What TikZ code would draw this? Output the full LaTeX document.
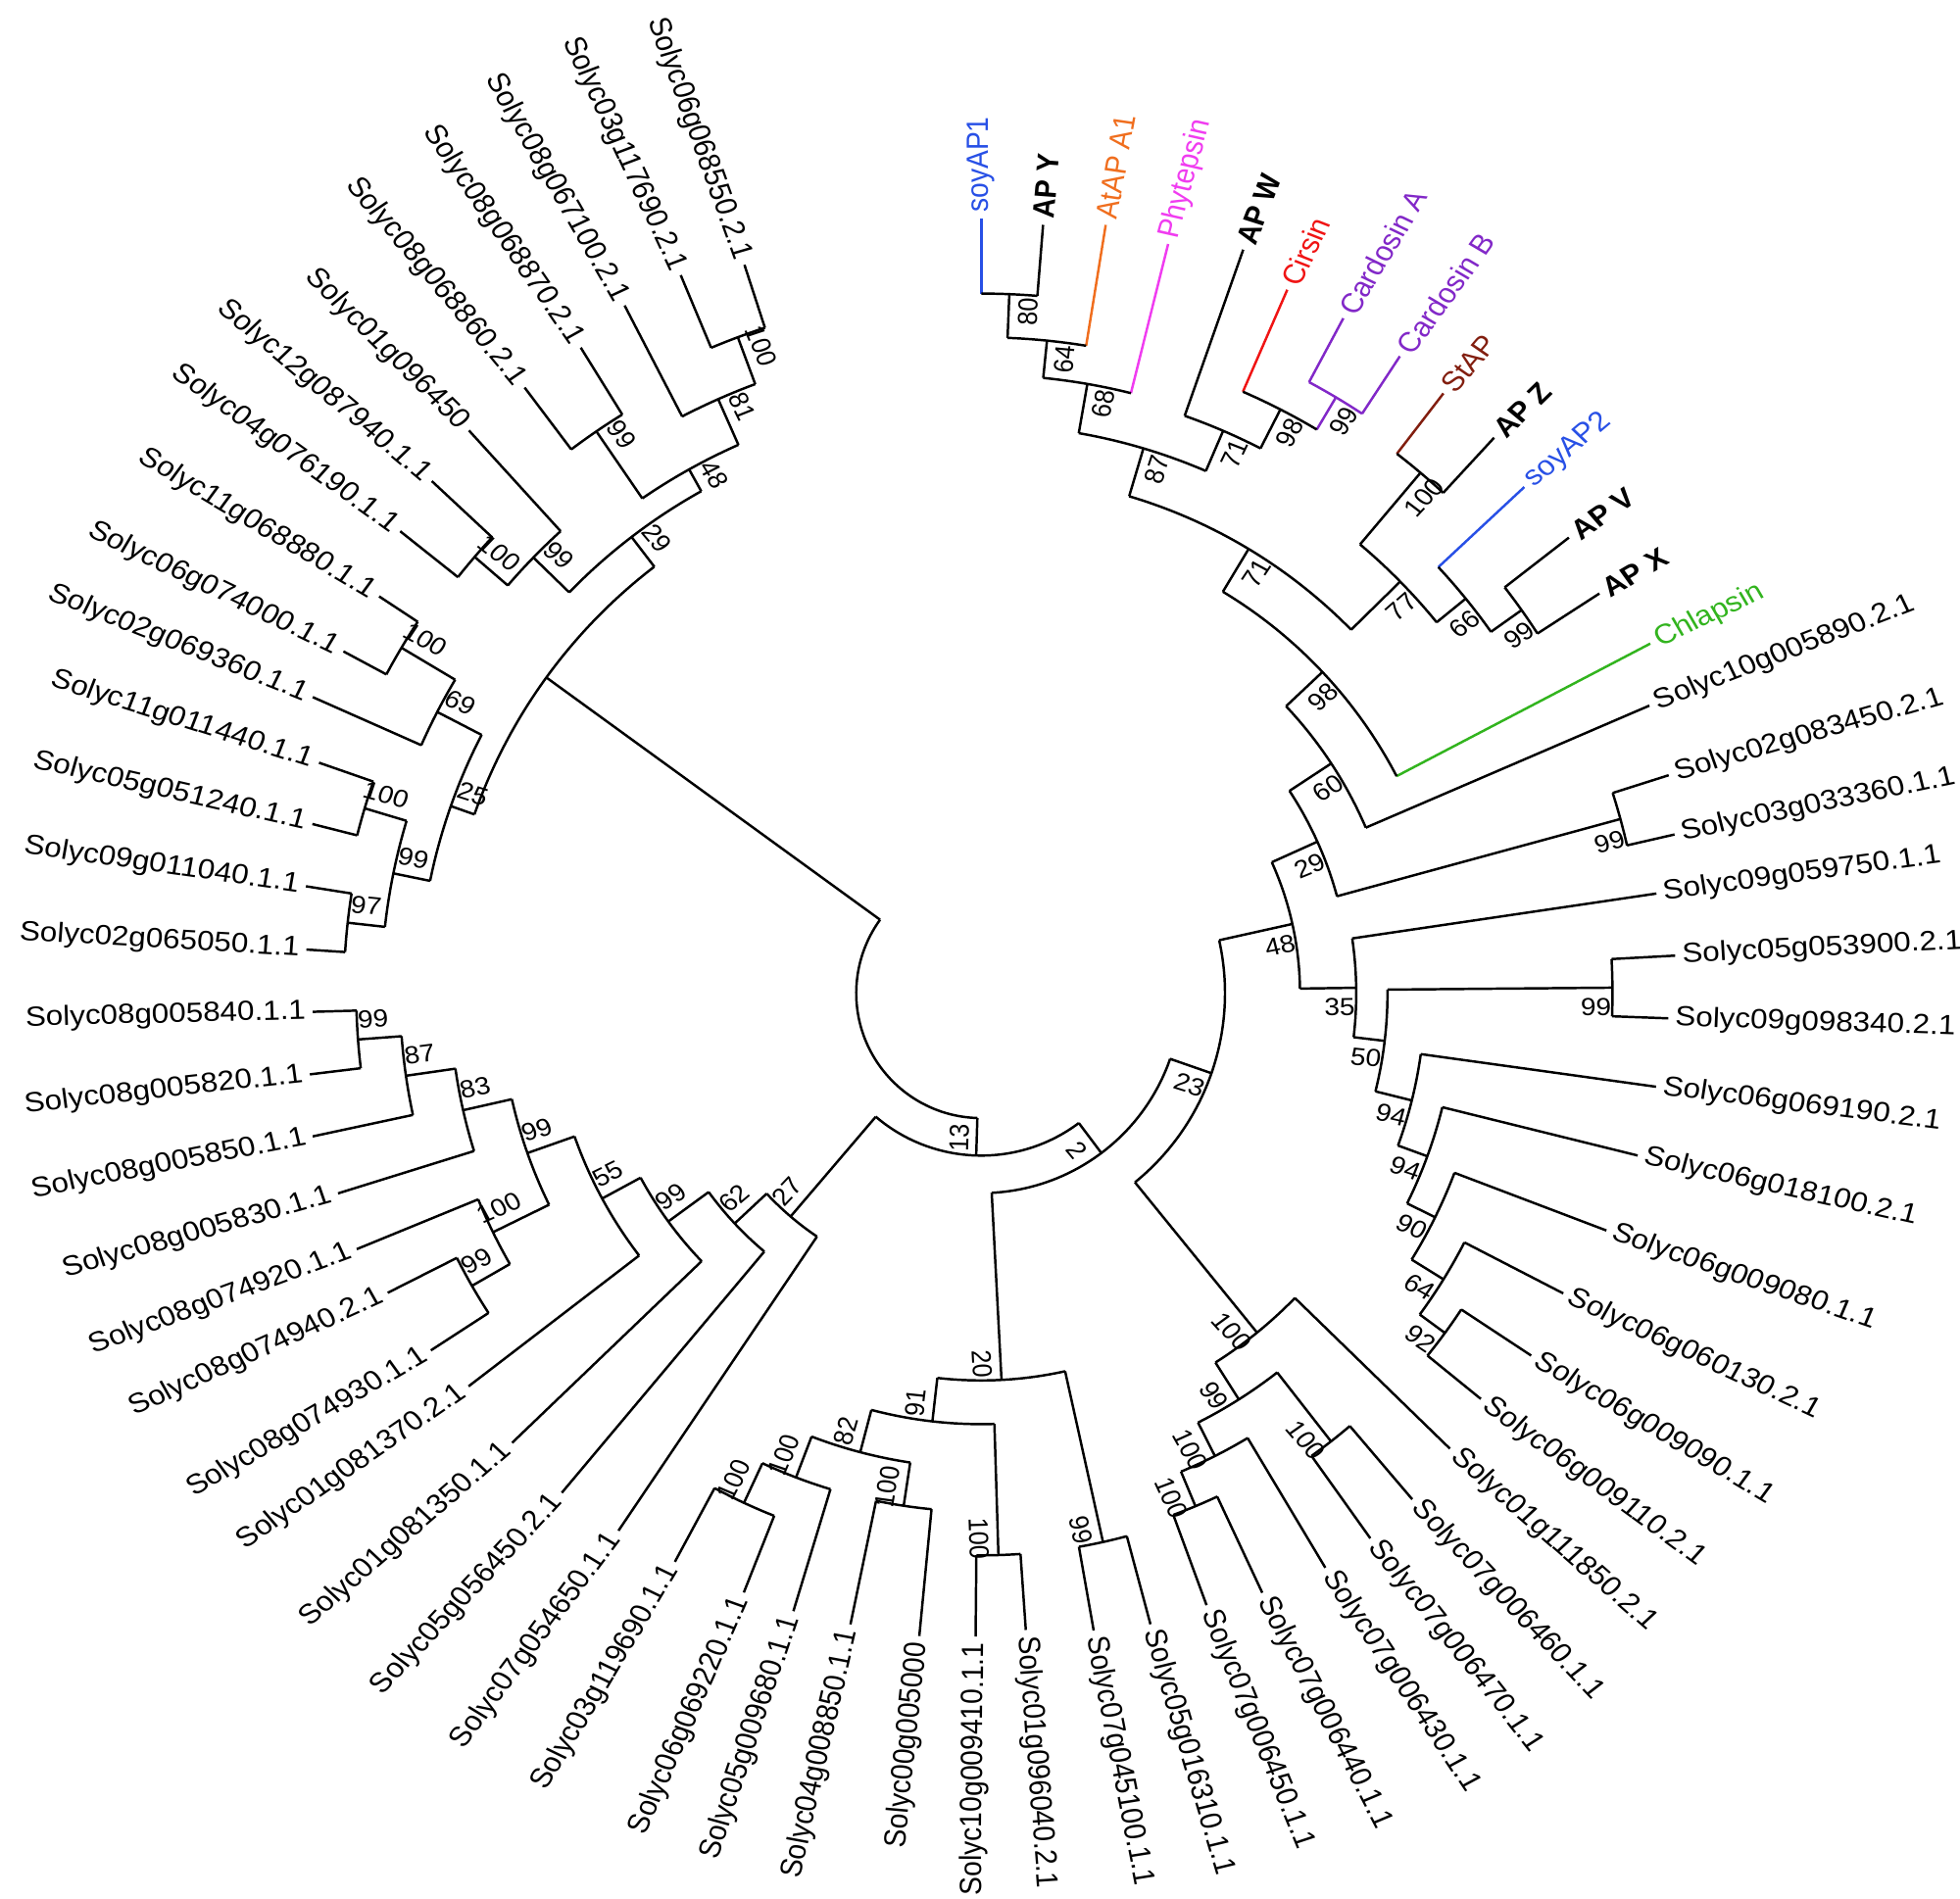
\documentclass[tikz,border=0pt]{standalone}
\usepackage{fontspec}
\setmainfont{Liberation Sans}
\definecolor{cblue}{RGB}{40,80,230}
\definecolor{corange}{RGB}{240,110,30}
\definecolor{cmag}{RGB}{240,60,240}
\definecolor{cred}{RGB}{240,20,20}
\definecolor{cpurp}{RGB}{130,40,200}
\definecolor{cbrown}{RGB}{130,30,15}
\definecolor{cgreen}{RGB}{50,180,30}
\tikzset{lbl/.style={font=\fontsize{14}{16}\selectfont,inner sep=3pt},
 bs/.style={font=\fontsize{12.5}{14}\selectfont,inner sep=0pt},
 br/.style={line width=1.1pt}}
\newcommand\lf[5]{%
 \expandafter\xdef\csname A#1\endcsname{#2}%
 \expandafter\xdef\csname K#1\endcsname{#4}%
 \coordinate (#1) at (#2:#3);
 \ifdim #2pt<-90pt
   \node[lbl,text=#4,anchor=east,rotate=#2+180] (t#1) at (#1) {#5};
 \else
   \node[lbl,text=#4,anchor=west,rotate=#2] (t#1) at (#1) {#5};
 \fi}
\newcommand\nd[6][black]{%
 \pgfmathsetmacro\tmpa{(\csname A#3\endcsname+\csname A#4\endcsname)/2}%
 \expandafter\xdef\csname A#2\endcsname{\tmpa}%
 \expandafter\xdef\csname K#2\endcsname{#1}%
 \pgfmathsetmacro\rr{#5*0.02}%
 \pgfmathsetmacro\ry{#5*0.02/0.9}%
 \coordinate (#2) at (\tmpa:#5);
 \coordinate (#2-a) at (\csname A#3\endcsname:#5);
 \coordinate (#2-b) at (\csname A#4\endcsname:#5);
 \draw[br,color=\csname K#3\endcsname] (#2-a) -- (#3);
 \draw[br,color=\csname K#4\endcsname] (#2-b) -- (#4);
 \draw[br,color=#1] (#2-a) arc[start angle=\csname A#3\endcsname, end angle=\csname A#4\endcsname, x radius=\rr cm, y radius=\ry cm];
 \if\relax\detokenize{#6}\relax\else
   \ifdim \tmpa pt<-90pt
     \node[bs,rotate=\tmpa+180] (b#2) at ({\tmpa-900/#5}:{#5-13}) {#6};
   \else
     \node[bs,rotate=\tmpa] (b#2) at ({\tmpa-900/#5}:{#5-13}) {#6};
   \fi
 \fi}
\begin{document}
\begin{tikzpicture}[x=0.02cm,y=0.0222222cm,yscale=0.9,every node/.append style={transform shape}]
\fill[white] (-785,-725) rectangle (783,795);
\useasboundingbox (-785,-725) rectangle (783,795);
\lf{L0}{90}{620}{cblue}{soyAP1}
\lf{L1}{85.4}{617}{black}{\textbf{AP Y}}
\lf{L2}{80.8}{623}{corange}{AtAP A1}
\lf{L3}{76}{618}{cmag}{Phytepsin}
\lf{L4}{70.6}{631}{black}{\textbf{AP W}}
\lf{L5}{66.5}{614}{cred}{Cirsin}
\lf{L6}{61.8}{613}{cpurp}{Cardosin A}
\lf{L7}{56.7}{610}{cpurp}{Cardosin B}
\lf{L8}{52.4}{606}{cbrown}{StAP}
\lf{L9}{47.3}{605}{black}{\textbf{AP Z}}
\lf{L10}{43}{594}{cblue}{soyAP2}
\lf{L11}{37.8}{595}{black}{\textbf{AP V}}
\lf{L12}{32.9}{589}{black}{\textbf{AP X}}
\lf{L13}{27.6}{604}{cgreen}{Chlapsin}
\lf{L14}{23.3}{582}{black}{Solyc10g005890.2.1}
\lf{L15}{17.6}{577}{black}{Solyc02g083450.2.1}
\lf{L16}{12.9}{569}{black}{Solyc03g033360.1.1}
\lf{L17}{8.4}{546}{black}{Solyc09g059750.1.1}
\lf{L18}{3.1}{556}{black}{Solyc05g053900.2.1}
\lf{L19}{-2.1}{550}{black}{Solyc09g098340.2.1}
\lf{L20}{-7.9}{545}{black}{Solyc06g069190.2.1}
\lf{L21}{-13.9}{541}{black}{Solyc06g018100.2.1}
\lf{L22}{-20.8}{535}{black}{Solyc06g009080.1.1}
\lf{L23}{-27.3}{524}{black}{Solyc06g060130.2.1}
\lf{L24}{-33.4}{527}{black}{Solyc06g009090.1.1}
\lf{L25}{-39.1}{515}{black}{Solyc06g009110.2.1}
\lf{L26}{-44.2}{523}{black}{Solyc01g111850.2.1}
\lf{L27}{-49.6}{532}{black}{Solyc07g006460.1.1}
\lf{L28}{-54.5}{536}{black}{Solyc07g006470.1.1}
\lf{L29}{-59.1}{536}{black}{Solyc07g006430.1.1}
\lf{L30}{-64.9}{530}{black}{Solyc07g006440.1.1}
\lf{L31}{-69.8}{522}{black}{Solyc07g006450.1.1}
\lf{L32}{-75}{523}{black}{Solyc05g016310.1.1}
\lf{L33}{-80}{518}{black}{Solyc07g045100.1.1}
\lf{L34}{-86}{511}{black}{Solyc01g096040.2.1}
\lf{L35}{-90.5}{515}{black}{Solyc10g009410.1.1}
\lf{L36}{-95.5}{517}{black}{Solyc00g005000}
\lf{L37}{-101.7}{516}{black}{Solyc04g008850.1.1}
\lf{L38}{-106.9}{517}{black}{Solyc05g009680.1.1}
\lf{L39}{-111.6}{516}{black}{Solyc06g069220.1.1}
\lf{L40}{-118.3}{517}{black}{Solyc03g119690.1.1}
\lf{L41}{-124}{519}{black}{Solyc07g054650.1.1}
\lf{L42}{-130}{522}{black}{Solyc05g056450.2.1}
\lf{L43}{-136.2}{520}{black}{Solyc01g081350.1.1}
\lf{L44}{-142.5}{517}{black}{Solyc01g081370.2.1}
\lf{L45}{-147}{525}{black}{Solyc08g074930.1.1}
\lf{L46}{-153.2}{532}{black}{Solyc08g074940.2.1}
\lf{L47}{-157.7}{540}{black}{Solyc08g074920.1.1}
\lf{L48}{-162.7}{539}{black}{Solyc08g005830.1.1}
\lf{L49}{-167.9}{547}{black}{Solyc08g005850.1.1}
\lf{L50}{-173.1}{541}{black}{Solyc08g005820.1.1}
\lf{L51}{-178.4}{535}{black}{Solyc08g005840.1.1}
\lf{L52}{-183.7}{541}{black}{Solyc02g065050.1.1}
\lf{L53}{-189}{547}{black}{Solyc09g011040.1.1}
\lf{L54}{-194.2}{552}{black}{Solyc05g051240.1.1}
\lf{L55}{-199.2}{561}{black}{Solyc11g011440.1.1}
\lf{L56}{-203.9}{585}{black}{Solyc02g069360.1.1}
\lf{L57}{-208.2}{579}{black}{Solyc06g074000.1.1}
\lf{L58}{-213.4}{577}{black}{Solyc11g068880.1.1}
\lf{L59}{-218.5}{594}{black}{Solyc04g076190.1.1}
\lf{L60}{-223}{601}{black}{Solyc12g087940.1.1}
\lf{L61}{-227.7}{609}{black}{Solyc01g096450}
\lf{L62}{-233}{607}{black}{Solyc08g068860.2.1}
\lf{L63}{-238.2}{608}{black}{Solyc08g068870.2.1}
\lf{L64}{-242.6}{620}{black}{Solyc08g067100.2.1}
\lf{L65}{-247.3}{623}{black}{Solyc03g117690.2.1}
\lf{L66}{-252}{613}{black}{Solyc06g068550.2.1}
% upper right
\nd{n80}{L0}{L1}{560}{80}
\nd{n64}{n80}{L2}{525}{64}
\nd{n68}{n64}{L3}{495}{68}
\nd[cpurp]{n99cd}{L6}{L7}{555}{99}
\nd{n98b}{L5}{n99cd}{525}{98}
\nd{n71b}{L4}{n98b}{490}{71}
\nd{n87}{n68}{n71b}{455}{87}
\nd{n100s}{L8}{L9}{545}{100}
\nd{n99v}{L11}{L12}{530}{99}
\nd{n66}{L10}{n99v}{500}{66}
\nd{n77}{n100s}{n66}{470}{77}
\nd{n71a}{n87}{n77}{415}{71}
\nd{n98}{n71a}{L13}{375}{98}
\nd{n60}{n98}{L14}{335}{60}
\nd{n99b}{L15}{L16}{530}{99}
\nd{n29r}{n60}{n99b}{295}{29}
\nd{n92}{L24}{L25}{460}{92}
\nd{n64r}{L23}{n92}{435}{64}
\nd{n90}{L22}{n64r}{405}{90}
\nd{n94b}{L21}{n90}{380}{94}
\nd{n94a}{L20}{n94b}{355}{94}
\nd{n99c}{L18}{L19}{505}{99}
\nd{n50}{n99c}{n94a}{325}{50}
\nd{n35}{L17}{n50}{300}{35}
\nd{n48r}{n29r}{n35}{255}{48}
\nd{n100g}{L27}{L28}{455}{100}
\nd{n100h}{L30}{L31}{445}{100}
\nd{n100i}{L29}{n100h}{415}{100}
\nd{n99g}{n100g}{n100i}{385}{99}
\nd{n100j}{L26}{n99g}{350}{100}
\nd{n23}{n48r}{n100j}{195}{23}
% bottom
\nd{n99m}{L32}{L33}{450}{99}
\nd{n100m}{L34}{L35}{450}{100}
\nd{n100n}{L36}{L37}{415}{100}
\nd{n100o}{L39}{L40}{450}{100}
\nd{n100p}{L38}{n100o}{415}{100}
\nd{n82}{n100n}{n100p}{380}{82}
\nd{n91}{n100m}{n82}{345}{91}
\nd{n20}{n99m}{n91}{310}{20}
\nd{n2}{n23}{n20}{160}{2}
% lower left
\nd{n99q}{L50}{L51}{500}{99}
\nd{n87q}{L49}{n99q}{465}{87}
\nd{n83}{L48}{n87q}{425}{83}
\nd{n99r}{L45}{L46}{470}{99}
\nd{n100r}{n99r}{L47}{435}{100}
\nd{n99s}{n100r}{n83}{385}{99}
\nd{n55}{L44}{n99s}{345}{55}
\nd{n99t}{L43}{n55}{310}{99}
\nd{n62}{L42}{n99t}{270}{62}
\nd{n27}{L41}{n62}{235}{27}
\nd{n13}{n2}{n27}{130}{13}
% upper left
\nd{n97}{L52}{L53}{510}{97}
\nd{n100u}{L54}{L55}{515}{100}
\nd{n99u}{n97}{n100u}{480}{99}
\nd{n100v}{L57}{L58}{540}{100}
\nd{n69}{L56}{n100v}{490}{69}
\nd{n25}{n99u}{n69}{450}{25}
\nd{n100w}{L59}{L60}{535}{100}
\nd{n99w}{n100w}{L61}{500}{99}
\nd{n99x}{L62}{L63}{545}{99}
\nd{n100y}{L65}{L66}{560}{100}
\nd{n81}{L64}{n100y}{520}{81}
\nd{n48}{n99x}{n81}{480}{48}
\nd{n29}{n99w}{n48}{460}{29}
\nd{nul}{n25}{n29}{430}{}
\nd{root}{n13}{nul}{100}{}
\end{tikzpicture}
\end{document}
